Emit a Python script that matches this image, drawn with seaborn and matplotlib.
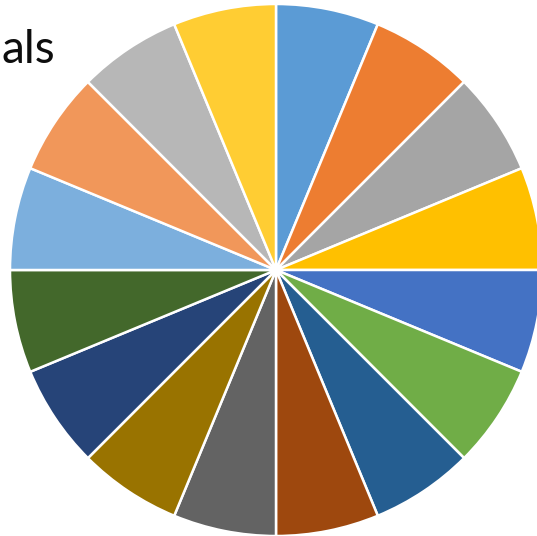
import matplotlib
matplotlib.use("Agg")
import matplotlib.pyplot as plt
import seaborn as sns

# 16 equal slices, Office colour cycle, clockwise from 12 o'clock
slice_values = [1] * 16
slice_colors = ["#5B9BD5", "#ED7D31", "#A5A5A5", "#FFC000",
                "#4472C4", "#70AD47", "#255E91", "#9E480E",
                "#636363", "#997300", "#264478", "#43682B",
                "#7CAFDD", "#F1975A", "#B7B7B7", "#FFCD33"]
title_text = "als"

sns.set_theme(style="white")
plt.rcParams['font.family'] = ['Lato', 'DejaVu Sans']

fig = plt.figure(figsize=(5.37, 5.36), dpi=100)
ax = fig.add_axes([0, 0, 1, 1])
palette = sns.color_palette(slice_colors)
ax.pie(slice_values, colors=palette, startangle=90, counterclock=False,
       radius=1.0, wedgeprops=dict(edgecolor="white", linewidth=1.8))

# pie centre at about (276, 270) px, radius 266 px
r = 266.0
ax.set_xlim(-276 / r, (537 - 276) / r)
ax.set_ylim((270 - 536) / r, 270 / r)
ax.set_aspect("auto")
ax.axis("off")

fig.text(0.002, 1 - 63 / 536, title_text, fontsize=33, color="#0d0d0d",
         ha="left", va="baseline")

fig.savefig("out.png", dpi=100, facecolor="white")
